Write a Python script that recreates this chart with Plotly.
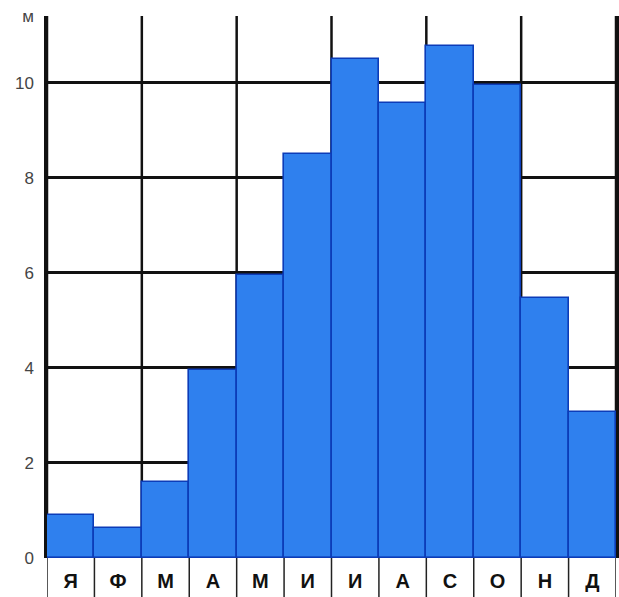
import plotly.graph_objects as go

months = ["Я", "Ф", "М", "А", "М", "И", "И", "А", "С", "О", "Н", "Д"]
values = [0.9, 0.63, 1.6, 3.95, 5.95, 8.5, 10.5, 9.58, 10.76, 9.94, 5.47, 3.07]
y_ticks = [0, 2, 4, 6, 8, 10]
y_top = 11.4
unit_label = "м"

idx = list(range(len(months)))

fig = go.Figure()
fig.add_trace(go.Bar(
    x=idx, y=values, width=1.0,
    marker=dict(color="#2f80ee", line=dict(color="#0c3cb8", width=1.6)),
    hoverinfo="skip",
))

shapes = []
# vertical grid lines every two months (drawn beneath the bars)
for k in range(0, len(months) + 1, 2):
    shapes.append(dict(type="line", xref="x", yref="paper", x0=k - 0.5, x1=k - 0.5,
                       y0=0, y1=1, line=dict(color="#111", width=2.5), layer="below"))
# label boxes under the axis
for k in range(0, len(months) + 1):
    shapes.append(dict(type="line", xref="x", yref="paper", x0=k - 0.5, x1=k - 0.5,
                       y0=-0.08, y1=0, line=dict(color="#222", width=1.5), layer="above"))
shapes.append(dict(type="line", xref="paper", yref="y", x0=0, x1=1, y0=0, y1=0,
                   line=dict(color="#0c3cb8", width=2.5), layer="above"))

fig.update_layout(
    width=619, height=597,
    margin=dict(l=47, r=0, t=16, b=39),
    paper_bgcolor="white", plot_bgcolor="white",
    showlegend=False, bargap=0,
    shapes=shapes,
    xaxis=dict(
        range=[-0.5, len(months) - 0.5],
        tickvals=idx, ticktext=months,
        showgrid=False, zeroline=False, showline=False,
        ticks="outside", ticklen=5, tickcolor="rgba(0,0,0,0)",
        tickfont=dict(family="Liberation Sans", size=20, color="#111", weight="bold"),
    ),
    yaxis=dict(
        range=[0, y_top],
        tickvals=y_ticks + [y_top], ticktext=[str(v) for v in y_ticks] + [unit_label],
        showgrid=True, gridcolor="#111", gridwidth=2.5,
        zeroline=False, showline=True, linecolor="#111", linewidth=2.5, mirror=True,
        ticks="outside", ticklen=7, tickcolor="rgba(0,0,0,0)",
        tickfont=dict(family="Liberation Sans", size=17, color="#444"),
    ),
)

fig.write_html(
    "out.html",
    config={"displayModeBar": False},
    post_script="document.body.style.margin='0';document.body.style.overflow='hidden';",
)
